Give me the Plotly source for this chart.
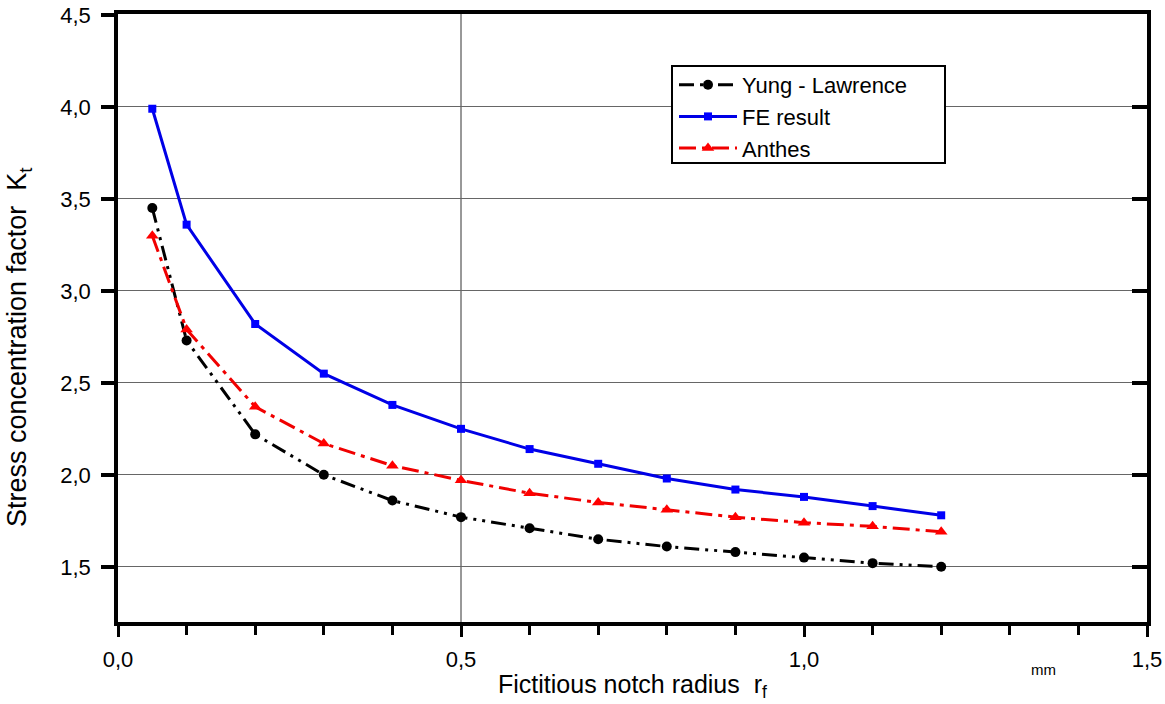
import plotly.graph_objects as go

r_f = [0.05, 0.1, 0.2, 0.3, 0.4, 0.5, 0.6, 0.7, 0.8, 0.9, 1.0, 1.1, 1.2]
yung_lawrence = [3.45, 2.73, 2.22, 2.00, 1.86, 1.77, 1.71, 1.65, 1.61, 1.58, 1.55, 1.52, 1.50]
fe_result = [3.99, 3.36, 2.82, 2.55, 2.38, 2.25, 2.14, 2.06, 1.98, 1.92, 1.88, 1.83, 1.78]
anthes = [3.30, 2.79, 2.37, 2.17, 2.05, 1.97, 1.90, 1.85, 1.81, 1.77, 1.74, 1.72, 1.69]

x_tickvals = [0.0, 0.5, 1.0, 1.5]
x_ticktext = ["0,0", "0,5", "1,0", "1,5"]
y_tickvals = [1.5, 2.0, 2.5, 3.0, 3.5, 4.0, 4.5]
y_ticktext = ["1,5", "2,0", "2,5", "3,0", "3,5", "4,0", "4,5"]

FONT = "Liberation Sans, Arial, sans-serif"

# plot area in pixels (reference): left 118, right 1147, top 14, bottom 622
L, R, T, B = 118, 1147, 14, 622
W, H = 1165, 704

def px_x(px):
    return (px - L) / (R - L)

def px_y(py):
    return (B - py) / (B - T)

fig = go.Figure()
fig.add_trace(go.Scatter(x=r_f, y=yung_lawrence, name="Yung - Lawrence", mode="lines+markers",
                         line=dict(color="black", width=3, dash="15px,6px,3px,6px,3px,6px"),
                         marker=dict(symbol="circle", size=10, color="black")))
fig.add_trace(go.Scatter(x=r_f, y=fe_result, name="FE result", mode="lines+markers",
                         line=dict(color="#0000e6", width=3),
                         marker=dict(symbol="square", size=8, color="#0000ff")))
fig.add_trace(go.Scatter(x=r_f, y=anthes, name="Anthes", mode="lines+markers",
                         line=dict(color="#f00000", width=3, dash="17px,6px,4px,6px"),
                         marker=dict(symbol="triangle-up", size=11, color="#ff0000")))
# invisible trace to drive the right axis (inward ticks)
fig.add_trace(go.Scatter(x=[r_f[0]], y=[fe_result[0]], yaxis="y2", showlegend=False,
                         mode="markers", marker=dict(opacity=0), hoverinfo="skip"))

# vertical reference line at 0.5 and legend frame
fig.add_shape(type="line", xref="x", yref="paper", x0=0.5, x1=0.5, y0=0, y1=1,
              line=dict(color="#333333", width=1), layer="below")
fig.add_shape(type="rect", xref="paper", yref="paper",
              x0=px_x(672), x1=px_x(945), y0=px_y(163), y1=px_y(66),
              line=dict(color="black", width=2), fillcolor="white", layer="above")

fig.update_layout(
    width=W, height=H,
    margin=dict(l=L, r=W - R, t=T, b=H - B, autoexpand=False),
    plot_bgcolor="white", paper_bgcolor="white",
    font=dict(family=FONT, size=22, color="black"),
    showlegend=True,
    legend=dict(x=px_x(674), y=px_y(64), xanchor="left", yanchor="top",
                bgcolor="rgba(0,0,0,0)", borderwidth=0,
                font=dict(family=FONT, size=22),
                tracegroupgap=0, itemwidth=58),
    xaxis=dict(range=[0, 1.5], tickvals=x_tickvals, ticktext=x_ticktext,
               showgrid=False, zeroline=False, automargin=False,
               showline=True, linecolor="black", linewidth=3.5, mirror=True,
               ticks="outside", ticklen=11, tickwidth=3, tickcolor="black",
               ticklabelstandoff=4,
               minor=dict(dtick=0.1, ticks="outside", ticklen=9, tickwidth=3,
                          tickcolor="black", showgrid=False),
               tickfont=dict(size=22)),
    yaxis=dict(range=[1.2, 4.505], tickvals=y_tickvals, ticktext=y_ticktext,
               showgrid=True, gridcolor="#666666", gridwidth=1, zeroline=False,
               automargin=False,
               showline=True, linecolor="black", linewidth=3.5, mirror=True,
               ticks="outside", ticklen=13, tickwidth=3.5, tickcolor="black",
               ticklabelstandoff=6,
               tickfont=dict(size=22)),
    yaxis2=dict(range=[1.2, 4.505], overlaying="y", side="right", tickvals=y_tickvals,
                showticklabels=False, showgrid=False, zeroline=False, automargin=False,
                ticks="inside", ticklen=15, tickwidth=3.5, tickcolor="black"),
    annotations=[
        dict(text="Fictitious notch radius  r<sub>f</sub>", xref="paper", yref="paper",
             x=0.5, y=px_y(686), xanchor="center", yanchor="middle", showarrow=False,
             font=dict(family=FONT, size=25)),
        dict(text="Stress concentration factor  K<sub>t</sub>", xref="paper", yref="paper",
             x=px_x(19), y=px_y(347), xanchor="center", yanchor="middle", showarrow=False,
             textangle=-90, font=dict(family=FONT, size=27)),
        dict(text="mm", xref="paper", yref="paper", x=px_x(1043), y=px_y(669),
             xanchor="center", yanchor="middle", showarrow=False,
             font=dict(family=FONT, size=15)),
    ],
)

fig.write_html("out.html", config={"displayModeBar": False},
               post_script="document.body.style.margin='0';document.body.style.overflow='hidden';")
